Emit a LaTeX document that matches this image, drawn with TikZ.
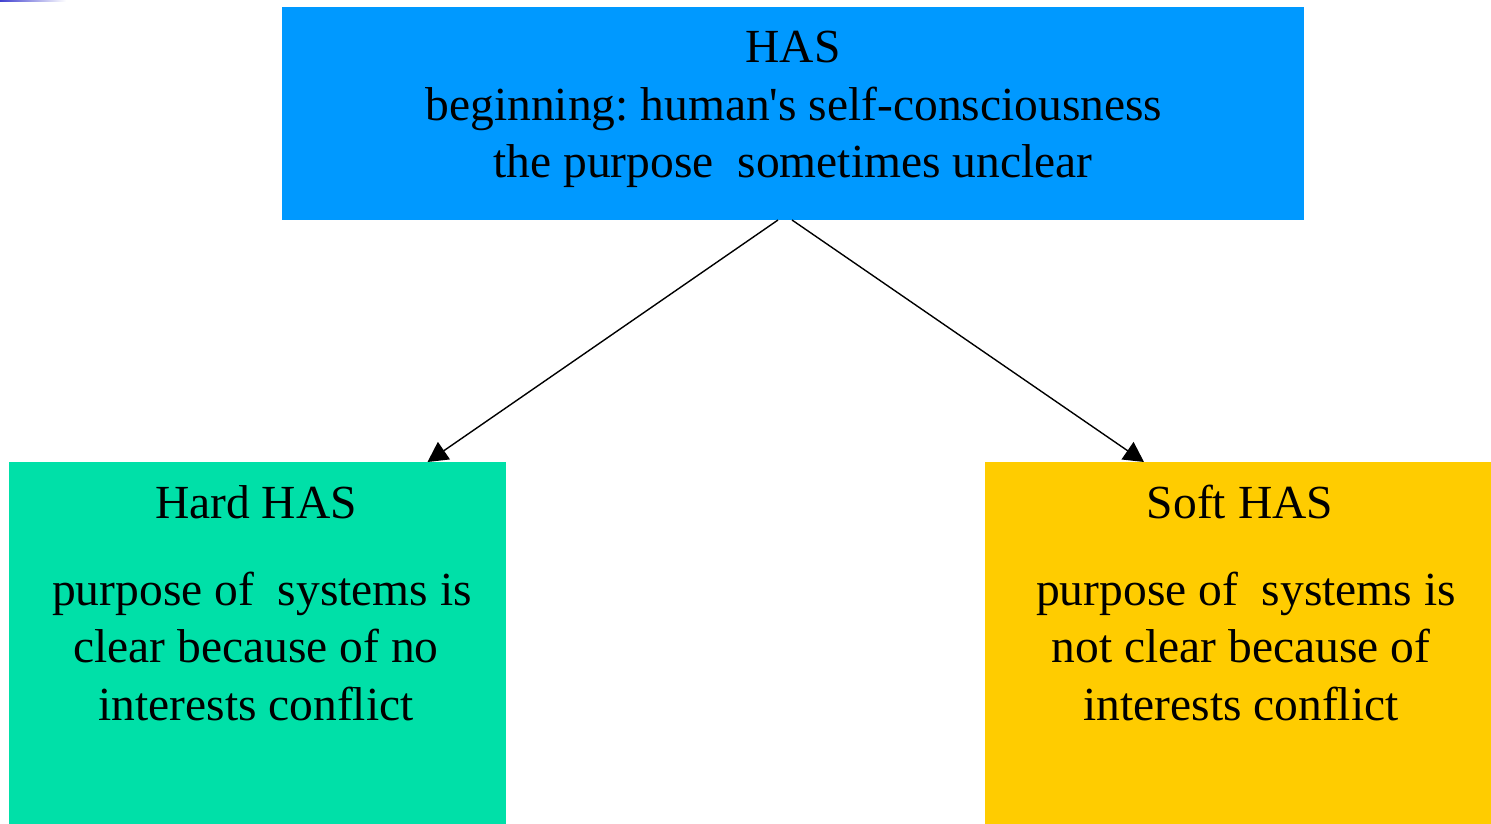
\documentclass[tikz,border=0pt]{standalone}
\usepackage{fontspec}
\setmainfont{Liberation Serif}
\usetikzlibrary{arrows.meta}
\frenchspacing
\definecolor{topblue}{HTML}{0099FF}
\definecolor{hardgreen}{HTML}{00E0A8}
\definecolor{softyellow}{HTML}{FFCC00}
\definecolor{cornerblue}{HTML}{4040D0}
\tikzset{
  boxnode/.style={draw=none, rectangle, inner sep=0pt, outer sep=0pt},
  txt/.style={anchor=base, inner sep=0pt, font=\fontsize{47.5}{57.5}\selectfont},
  link/.style={line width=1.4pt, -{Triangle[length=20pt,width=21pt]}, shorten >=0pt}
}
\begin{document}
\begin{tikzpicture}[x=1pt,y=-1pt]
\useasboundingbox (0,0) rectangle (1491,824);
\shade[left color=cornerblue, right color=white] (0,0) rectangle (66,2);
\node[boxnode, fill=topblue, minimum width=1022pt, minimum height=213pt] (top) at (793,113.5) {};
\node[boxnode, fill=hardgreen, minimum width=497pt, minimum height=362pt] (hard) at (257.5,643) {};
\node[boxnode, fill=softyellow, minimum width=506pt, minimum height=362pt] (soft) at (1238,643) {};
% top text
\node[txt] (t1) at (793,63) {HAS};
\node[txt] (t2) at (794,120.5) {beginning: human\textquotesingle s self-consciousness};
\node[txt] (t3) at (793,178) {the purpose\ \ sometimes unclear};
% hard text
\node[txt] (h1) at (256,518) {Hard HAS};
\node[txt] (h2) at (262,605) {purpose of\ \ systems is};
\node[txt] (h3) at (256,662.5) {clear because of no};
\node[txt] (h4) at (256,720) {interests conflict};
% soft text
\node[txt] (s1) at (1240,518) {Soft HAS};
\node[txt] (s2) at (1246,605) {purpose of\ \ systems is};
\node[txt] (s3) at (1241,662.5) {not clear because of};
\node[txt] (s4) at (1241,720) {interests conflict};
% connectors
\draw[link] ([xshift=-15pt]top.south) -- ([xshift=170pt]hard.north);
\draw[link] ([xshift=-1pt]top.south) -- ([xshift=-94pt]soft.north);
\end{tikzpicture}
\end{document}
